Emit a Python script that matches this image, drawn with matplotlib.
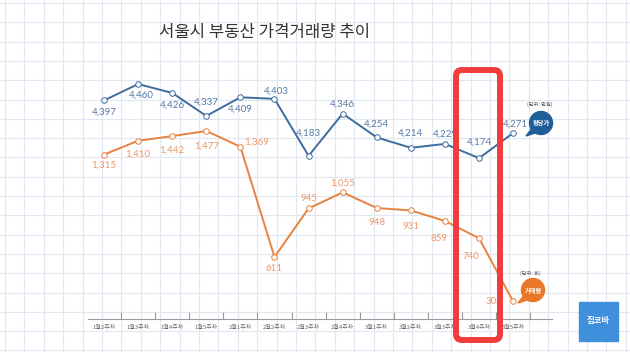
import numpy as np
import matplotlib
matplotlib.use('Agg')
import matplotlib.pyplot as plt
from matplotlib.patches import FancyBboxPatch, Circle, Polygon
from matplotlib.transforms import IdentityTransform

plt.rcParams['font.family'] = ['Noto Sans CJK KR', 'DejaVu Sans']

# data
weeks = ['1월2주차', '1월3주차', '1월4주차', '1월5주차', '2월1주차', '2월2주차', '2월3주차',
         '2월4주차', '3월1주차', '3월2주차', '3월3주차', '3월4주차', '3월5주차']
price = [4397, 4460, 4426, 4337, 4409, 4403, 4183, 4346, 4254, 4214, 4229, 4174, 4271]
volume = [1315, 1410, 1442, 1477, 1369, 611, 945, 1055, 948, 931, 859, 740, 306]

# label offsets (pixels) for each point
price_off = [(0, -12), (3, -11), (0, -12), (0, 14), (0, -12), (2, 8),
             (0, 23), (0, 9), (0, 13), (0, 15), (0, 10), (0, 16), (2, 9)]
volume_off = [(0, -11), (0, -13), (0, -14), (0, -15), (16, 5), (0, -11), (0, 10),
              (0, 9), (0, -15), (0, -16), (-6, -18), (-8, -18), (-19, 0)]

BLUE = '#3e6c9f'
BLUE_TXT = '#5479a8'
ORANGE = '#e8823f'
ORANGE_TXT = '#eb9868'

W, H = 630, 352
fig = plt.figure(figsize=(W / 100, H / 100), dpi=100)
fig.patch.set_facecolor('white')

# graph paper background
bg = fig.add_axes([0, 0, 1, 1], zorder=0)
bg.set_xlim(0, W)
bg.set_ylim(H, 0)
bg.axis('off')
for gx in np.arange(5, W, 19.4):
    bg.axvline(gx, color='#dfe8f1', lw=0.8)
for gy in np.arange(3, H, 19.3):
    bg.axhline(gy, color='#dfe8f1', lw=0.8)

# main axes
ax = fig.add_axes([88 / W, 33 / H, 464 / W, 259 / H], zorder=2)
ax2 = ax.twinx()
for a in (ax, ax2):
    a.patch.set_alpha(0)
    for s in ('top', 'right', 'left'):
        a.spines[s].set_visible(False)
    a.set_yticks([])
ax2.spines['bottom'].set_visible(False)

x = np.arange(len(weeks))
ax.set_xlim(-0.47, 13.14)
ax.set_ylim(3553, 4553)
ax2.set_ylim(185, 1965)

ax.spines['bottom'].set_color('#999999')
ax.spines['bottom'].set_linewidth(0.8)
ax.set_xticks(x + 0.5)
ax.set_xticklabels([])
ax.tick_params(axis='x', which='major', direction='in', length=5, color='#999999', width=0.8)
ax.set_xticks(x, minor=True)
ax.set_xticklabels(weeks, minor=True, fontsize=4.3, color='#666666')
ax.tick_params(axis='x', which='minor', length=0, pad=4)

ax.plot(x, price, color=BLUE, lw=1.4, marker='o', ms=4, mfc='white', mec=BLUE, mew=0.7, zorder=3)
ax2.plot(x, volume, color=ORANGE, lw=1.4, marker='o', ms=4, mfc='white', mec=ORANGE, mew=0.7, zorder=3)

for i, v in enumerate(price):
    ax.annotate(f'{v:,}', (x[i], v), xytext=(price_off[i][0] * 0.72, price_off[i][1] * 0.72),
                textcoords='offset points', ha='center', va='center', fontsize=7,
                color=BLUE_TXT, family=['Lato', 'DejaVu Sans'])
for i, v in enumerate(volume):
    ax2.annotate(f'{v:,}', (x[i], v), xytext=(volume_off[i][0] * 0.72, volume_off[i][1] * 0.72),
                 textcoords='offset points', ha='center', va='center', fontsize=7,
                 color=ORANGE_TXT, family=['Lato', 'DejaVu Sans'])

# title
fig.text(265 / W, 1 - 33 / H, '서울시 부동산 가격거래량 추이', ha='center', va='center',
         fontsize=12, color='#333333')

pix = IdentityTransform()

# red highlight box
box = FancyBboxPatch((456, H - 340), 44, 270, boxstyle='round,pad=0,rounding_size=6',
                     transform=pix, fill=False, ec='#f03c3c', lw=4.3, zorder=10)
fig.patches.append(box)

# unit bubbles
def bubble(cx, cy, color, label, unit, ux, uy):
    c = Circle((cx, H - cy), 11.5, transform=pix, color=color, zorder=8)
    tail = Polygon([(cx - 8, H - cy - 4), (cx - 3, H - cy - 9), (cx - 15, H - cy - 13)],
                   closed=True, transform=pix, color=color, zorder=8)
    fig.patches.extend([c, tail])
    fig.text(cx / W, 1 - cy / H, label, ha='center', va='center', fontsize=4.5,
             color='white', fontweight='bold', zorder=9)
    fig.text(ux / W, 1 - uy / H, unit, ha='center', va='center', fontsize=3.8,
             color='#555555', zorder=9)

bubble(541, 123, '#1f5f98', '평당가', '(단위: 만원)', 540, 104)
bubble(533, 290, '#e8772a', '거래량', '(단위: 회)', 530, 273)

# logo
logo = FancyBboxPatch((579, H - 341), 39, 39, boxstyle='square,pad=0', transform=pix,
                      color='#3f8fdc', zorder=8)
fig.patches.append(logo)
fig.text(598.5 / W, 1 - 321 / H, '집코바', ha='center', va='center', fontsize=6,
         color='white', fontweight='bold', style='italic', zorder=9)

fig.savefig('out.png', dpi=100)
